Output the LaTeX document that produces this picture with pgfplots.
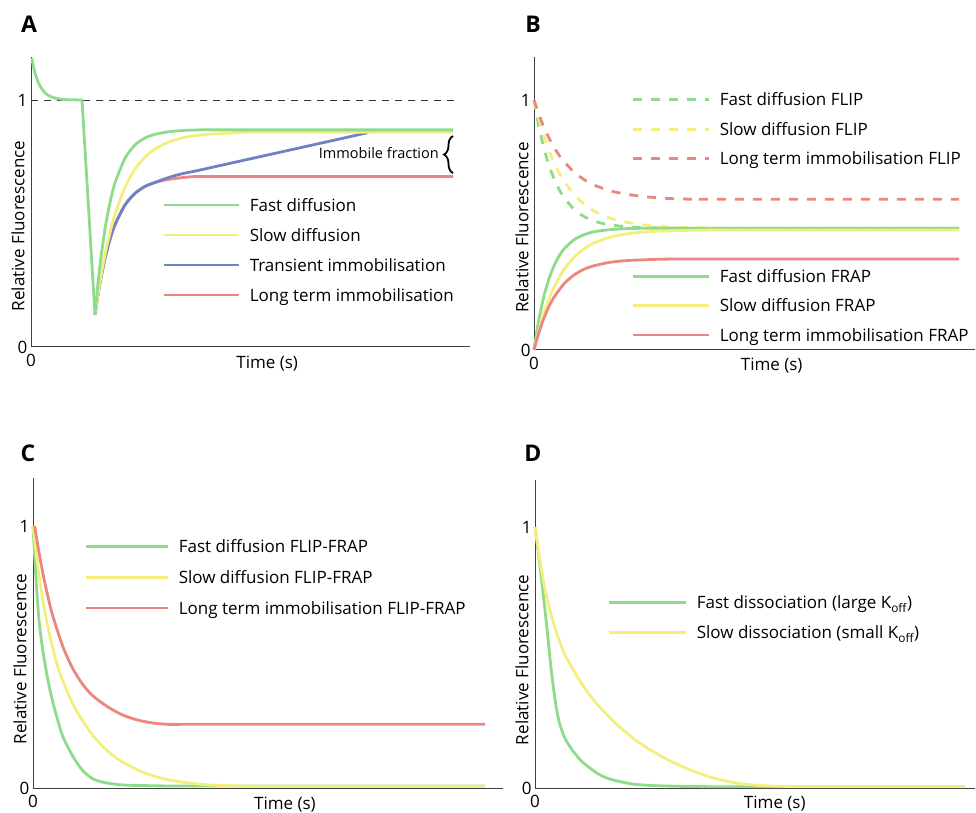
\documentclass[border=0pt]{standalone}
\usepackage{pgfplots}
\pgfplotsset{compat=1.18}
\usepackage{fontspec}
\setmainfont{Open Sans}
\usetikzlibrary{decorations.pathreplacing}
\definecolor{cg}{HTML}{8EDB8A}
\definecolor{cy}{HTML}{F3EE7E}
\definecolor{cb}{HTML}{6F82C6}
\definecolor{cr}{HTML}{EC8680}
\definecolor{axc}{HTML}{404040}
\newcommand{\fs}{\fontsize{17}{20}\selectfont}
\pgfplotsset{
  panel/.style={
    scale only axis,
    axis x line*=bottom, axis y line*=left,
    axis line style={axc, line width=1pt},
    xmin=0, ymin=0,
    xtick={0}, ytick={0,1},
    xticklabels={0}, yticklabels={0,1},
    major tick length=0pt,
    ticklabel style={font=\fs, text=black},
    xticklabel style={yshift=-4pt},
    /pgf/number format/assume math mode=true,
    label style={font=\fs},
    ylabel={Relative Fluorescence},
    xlabel={Time (s)},
    clip=false,
    legend cell align=left,
    legend style={draw=none, fill=none, inner sep=0pt, outer sep=0pt, font=\fs,
      column sep=9pt, nodes={inner sep=0pt, text height=12.5pt, text depth=0pt},
      anchor=north west},
    every axis plot/.append style={line width=2.8pt, line join=round, smooth, tension=0.45},
  },
  limg/.style={legend image code/.code={\draw[##1] (0pt,0pt) -- (#1,0pt);}},
}
\begin{document}
\begin{tikzpicture}
\useasboundingbox (0,0) rectangle (976pt,812pt);
% panel letters
\node[font=\fontsize{23}{27}\selectfont\bfseries] at (29pt,788pt) {A};
\node[font=\fontsize{23}{27}\selectfont\bfseries] at (533pt,788pt) {B};
\node[font=\fontsize{23}{27}\selectfont\bfseries] at (28pt,359pt) {C};
\node[font=\fontsize{23}{27}\selectfont\bfseries] at (533pt,359pt) {D};

% ---------------- A ----------------
\begin{axis}[panel, at={(31pt,465pt)}, anchor=south west,
  width=439pt, height=290pt, xmax=439, ymax=1.174,
  ylabel style={at={(axis description cs:0,0.417)}, anchor=center, yshift=13pt},
  xlabel style={at={(axis description cs:0.538,0)}, anchor=center, yshift=-17pt},
  limg=75pt, legend style={at={(axis cs:132,0.600)}, row sep=17.5pt}]
\addplot[black!80, line width=0.9pt, dash pattern=on 7pt off 6pt, sharp plot, forget plot] coordinates {(0,1) (424,1)};
\addplot[cr, forget plot] coordinates {(64,0.13)(65,0.159)(66,0.186)(69,0.259)(74,0.359)(79,0.436)(84,0.495)(94,0.575)(104,0.622)(114,0.650)(124,0.666)(134,0.676)(144,0.682)(154,0.687)(164,0.69)(174,0.69)(184,0.69)(422,0.69)};
\addplot[cb, forget plot] coordinates {(64,0.13)(65,0.159)(66,0.186)(69,0.259)(74,0.359)(79,0.436)(84,0.495)(94,0.575)(104,0.622)(114,0.650)(124,0.666)(134,0.681)(144,0.694)(154,0.704)(164,0.712)(184,0.730)(204,0.748)(224,0.766)(254,0.793)(284,0.820)(314,0.847)(337,0.868)};
\addplot[cy, forget plot] coordinates {(64,0.13)(65,0.159)(66,0.187)(69,0.264)(74,0.374)(79,0.463)(84,0.537)(94,0.647)(104,0.720)(114,0.769)(124,0.802)(139,0.832)(154,0.849)(174,0.860)(194,0.865)(214,0.869)(234,0.869)(254,0.869)(422,0.869)};
\addplot[cg, sharp plot, forget plot] coordinates {(0.7,1.170)(2,1.143)(3,1.125)(4.5,1.103)(6,1.084)(7.5,1.069)(9,1.056)(12,1.038)(15,1.025)(18,1.017)(22,1.010)(26,1.006)(30,1.003)(36,1.001)(51,1.0)(64,0.13)};
\addplot[cg, forget plot] coordinates {(64,0.13)(65,0.175)(66,0.218)(69,0.331)(74,0.478)(79,0.585)(84,0.664)(94,0.764)(104,0.818)(114,0.846)(124,0.861)(139,0.872)(154,0.877)(169,0.879)(184,0.879)(199,0.879)(422,0.879)};
\addlegendimage{cg, line width=2.8pt}\addlegendentry{Fast diffusion}
\addlegendimage{cy, line width=2.8pt}\addlegendentry{Slow diffusion}
\addlegendimage{cb, line width=2.8pt}\addlegendentry{Transient immobilisation}
\addlegendimage{cr, line width=2.8pt}\addlegendentry{Long term immobilisation}
\draw[black, line width=1.8pt, decorate, decoration={brace, amplitude=9pt}] (axis cs:422,0.704) -- (axis cs:422,0.854);
\node[anchor=east, font=\fontsize{14.5}{17}\selectfont, inner sep=0pt] at (axis cs:408,0.785) {Immobile fraction};
\end{axis}

% ---------------- B ----------------
\begin{axis}[panel, at={(534pt,462pt)}, anchor=south west,
  width=441pt, height=293pt, xmax=441, ymax=1.172,
  ylabel style={at={(axis description cs:0,0.418)}, anchor=center, yshift=12pt},
  xlabel style={at={(axis description cs:0.539,0)}, anchor=center, yshift=-16pt},
  limg=76pt, legend style={at={(axis cs:98,1.026)}, row sep=16.9pt}]
\addplot[cg, dash pattern=on 9pt off 9pt] coordinates {(0,1.0)(5,0.891)(10,0.806)(15,0.738)(20,0.685)(25,0.643)(30,0.610)(40,0.563)(50,0.534)(60,0.516)(70,0.505)(85,0.496)(100,0.491)(120,0.489)(140,0.488)(160,0.487)(180,0.487)(425,0.487)};
\addlegendentry{Fast diffusion FLIP}
\addplot[cy, dash pattern=on 9pt off 9pt] coordinates {(0,1.0)(5,0.921)(10,0.855)(15,0.798)(20,0.750)(25,0.710)(30,0.676)(40,0.622)(50,0.584)(60,0.556)(75,0.529)(90,0.513)(110,0.500)(130,0.494)(160,0.489)(190,0.487)(220,0.487)(425,0.487)};
\addlegendentry{Slow diffusion FLIP}
\addplot[cr, dash pattern=on 9pt off 9pt] coordinates {(0,1.0)(5,0.941)(10,0.890)(15,0.848)(20,0.811)(25,0.780)(30,0.754)(40,0.712)(50,0.682)(60,0.660)(75,0.638)(90,0.625)(105,0.616)(120,0.610)(140,0.605)(160,0.603)(180,0.603)(425,0.603)};
\addlegendentry{Long term immobilisation FLIP}
\addlegendimage{empty legend}\addlegendentry{\mbox{}}
\addlegendimage{empty legend}\addlegendentry{\mbox{}}
\addlegendimage{empty legend}\addlegendentry{\mbox{}}
\addplot[cg] coordinates {(0,0)(2,0.054)(5,0.124)(10,0.217)(15,0.285)(20,0.337)(25,0.375)(30,0.404)(40,0.441)(50,0.461)(60,0.473)(75,0.481)(90,0.485)(110,0.487)(130,0.487)(150,0.487)(425,0.487)};
\addlegendentry{Fast diffusion FRAP}
\addplot[cy] coordinates {(0,0)(2,0.034)(5,0.081)(10,0.149)(15,0.204)(20,0.251)(30,0.322)(40,0.371)(50,0.405)(60,0.428)(75,0.450)(90,0.463)(110,0.472)(130,0.476)(160,0.479)(190,0.48)(220,0.48)(425,0.48)};
\addlegendentry{Slow diffusion FRAP}
\addplot[cr] coordinates {(0,0)(2,0.030)(5,0.071)(10,0.128)(15,0.174)(20,0.211)(30,0.265)(40,0.300)(50,0.323)(60,0.337)(75,0.350)(90,0.357)(105,0.360)(125,0.363)(145,0.364)(165,0.364)(425,0.364)};
\addlegendentry{Long term immobilisation FRAP}
\end{axis}

% ---------------- C ----------------
\begin{axis}[panel, at={(33pt,24pt)}, anchor=south west,
  width=470pt, height=310pt, xmax=470, ymax=1.183,
  ylabel style={at={(axis description cs:0,0.416)}, anchor=center, yshift=13pt},
  xlabel style={at={(axis description cs:0.536,0)}, anchor=center, yshift=-17pt},
  limg=82pt, legend style={at={(axis cs:52,0.946)}, row sep=18.3pt}]
\addplot[cg] coordinates {(0,1.0)(3,0.80)(6,0.64)(10,0.52)(15,0.41)(20,0.325)(25,0.255)(30,0.195)(40,0.12)(50,0.065)(60,0.035)(70,0.022)(85,0.013)(100,0.01)(115,0.009)(130,0.008)(145,0.008)(452,0.008)};
\addlegendentry{Fast diffusion FLIP-FRAP}
\addplot[cy] coordinates {(0,1.0)(4,0.87)(8,0.76)(12,0.67)(18,0.56)(25,0.46)(35,0.36)(45,0.285)(60,0.20)(75,0.14)(90,0.098)(110,0.06)(130,0.036)(150,0.022)(175,0.012)(200,0.008)(225,0.006)(250,0.006)(452,0.006)};
\addlegendentry{Slow diffusion FLIP-FRAP}
\addplot[cr] coordinates {(1.7,1.0)(5,0.921)(10,0.817)(15,0.729)(20,0.654)(30,0.538)(40,0.454)(50,0.394)(60,0.351)(75,0.309)(90,0.278)(105,0.259)(120,0.248)(135,0.243)(150,0.243)(165,0.243)(452,0.243)};
\addlegendentry{Long term immobilisation FLIP-FRAP}
\end{axis}

% ---------------- D ----------------
\begin{axis}[panel, at={(535pt,24pt)}, anchor=south west,
  width=440pt, height=308pt, xmax=440, ymax=1.180,
  ylabel style={at={(axis description cs:0,0.416)}, anchor=center, yshift=13pt},
  xlabel style={at={(axis description cs:0.545,0)}, anchor=center, yshift=-16pt},
  limg=77pt, legend style={at={(axis cs:73,0.734)}, row sep=17.5pt}]
\addplot[cg] coordinates {(0,1.0)(4,0.88)(8,0.75)(12,0.61)(16,0.46)(20,0.34)(24,0.255)(30,0.19)(38,0.142)(46,0.105)(55,0.076)(65,0.05)(75,0.034)(88,0.022)(100,0.014)(120,0.009)(150,0.006)(180,0.005)(210,0.005)(430,0.005)};
\addlegendentry{Fast dissociation (large K\textsubscript{off})}
\addplot[cy] coordinates {(0,1.0)(5,0.87)(10,0.76)(15,0.68)(22,0.59)(30,0.51)(45,0.41)(60,0.33)(80,0.25)(100,0.185)(120,0.135)(140,0.095)(160,0.062)(180,0.037)(200,0.02)(220,0.011)(240,0.007)(260,0.006)(280,0.006)(430,0.006)};
\addlegendentry{Slow dissociation (small K\textsubscript{off})}
\end{axis}
\end{tikzpicture}
\end{document}
